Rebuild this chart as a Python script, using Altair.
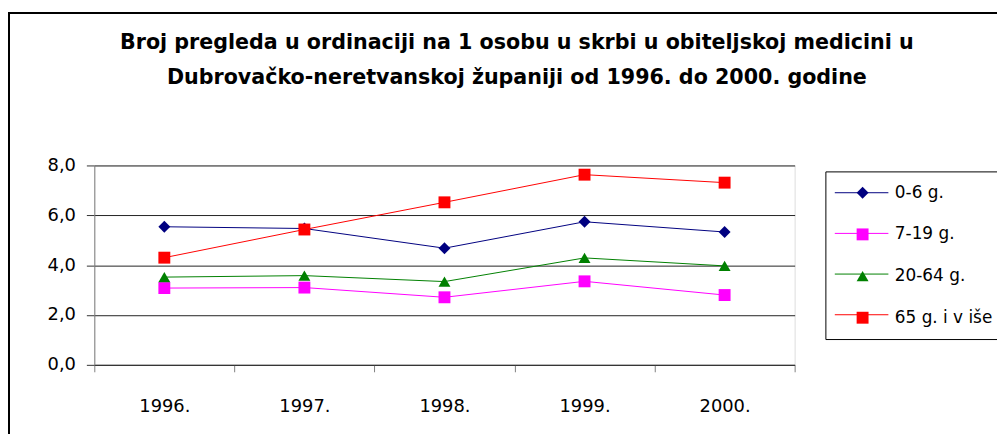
import altair as alt
import pandas as pd

years = ["1996.", "1997.", "1998.", "1999.", "2000."]
series = ["0-6 g.", "7-19 g.", "20-64 g.", "65 g. i v iše"]
v_0_6 = [5.54, 5.47, 4.68, 5.74, 5.33]
v_7_19 = [3.08, 3.10, 2.71, 3.35, 2.80]
v_20_64 = [3.52, 3.58, 3.34, 4.29, 3.97]
v_65 = [4.30, 5.43, 6.52, 7.63, 7.31]
colors = ["#000080", "#FF00FF", "#008000", "#FF0000"]
shapes = ["diamond", "square", "triangle-up", "square"]
title_lines = [
    "Broj pregleda u ordinaciji na 1 osobu u skrbi u obiteljskoj medicini u",
    "Dubrovačko-neretvanskoj županiji od 1996. do 2000. godine",
]

rows = []
for s, vals in zip(series, [v_0_6, v_7_19, v_20_64, v_65]):
    for y, v in zip(years, vals):
        rows.append({"year": y, "value": v, "series": s, "series_p": s})
df = pd.DataFrame(rows)

FONT = "DejaVu Sans"

x_enc = alt.X(
    "year:N",
    scale=alt.Scale(type="band", domain=years, paddingInner=0, paddingOuter=0),
    axis=alt.Axis(
        title=None, tickBand="extent", tickSize=7, tickColor="#808080",
        domainColor="#333333", labelFont=FONT, labelFontSize=18,
        labelColor="#000000", labelPadding=26, grid=False, labelAngle=0,
    ),
)
y_enc = alt.Y(
    "value:Q",
    scale=alt.Scale(domain=[0, 8], nice=False),
    axis=alt.Axis(
        title=None, values=[0, 2, 4, 6, 8], tickSize=8, tickColor="#333333",
        domainColor="#808080", gridColor="#222222", grid=True,
        labelFont=FONT, labelFontSize=18, labelColor="#000000", labelPadding=11,
        labelExpr="replace(format(datum.value, '.1f'), '.', ',')",
    ),
)

lines = alt.Chart(df).mark_line(strokeWidth=1).encode(
    x=x_enc,
    y=y_enc,
    color=alt.Color(
        "series:N",
        scale=alt.Scale(domain=series, range=colors),
        legend=alt.Legend(
            title=None, orient="none", legendX=746, legendY=0,
            symbolType="stroke", symbolSize=2916, symbolStrokeWidth=1,
            padding=0, rowPadding=5, labelExpr="''",
            labelFont=FONT, labelFontSize=17, labelOffset=0,
        ),
    ),
)

leg_p = alt.Legend(
    title=None, orient="none", legendX=737, legendY=6,
    strokeColor="#000000", padding=13, rowPadding=24,
    symbolOffset=16, labelFont=FONT, labelFontSize=17, labelColor="#000000",
    labelOffset=24, symbolStrokeWidth=0, symbolSize=144, symbolOpacity=1,
)

points = alt.Chart(df).mark_point(filled=True, opacity=1, size=144).encode(
    x=x_enc,
    y=y_enc,
    color=alt.Color("series_p:N",
                    scale=alt.Scale(domain=series, range=colors), legend=leg_p),
    shape=alt.Shape("series_p:N",
                    scale=alt.Scale(domain=series, range=shapes), legend=leg_p),
)

frame = alt.Chart(df).mark_rect(fill=None, stroke="#000000", strokeWidth=1.5).encode(
    x=alt.value(-86), x2=alt.value(960), y=alt.value(-154), y2=alt.value(300)
)

chart = alt.layer(frame, lines, points).resolve_scale(
    color="independent", shape="independent"
).properties(
    width=706,
    height=201,
    padding={"left": 87, "top": 157, "right": 204, "bottom": 68},
    autosize=alt.AutoSizeParams(type="none"),
    title=alt.Title(
        title_lines, font=FONT, fontSize=20.8, fontWeight="bold",
        color="#000000", anchor="middle", dx=73, offset=-77, lineHeight=35,
    ),
).configure_view(stroke=None).configure(background="#ffffff")

chart.save("out.html", embed_options={"renderer": "svg", "actions": False})
